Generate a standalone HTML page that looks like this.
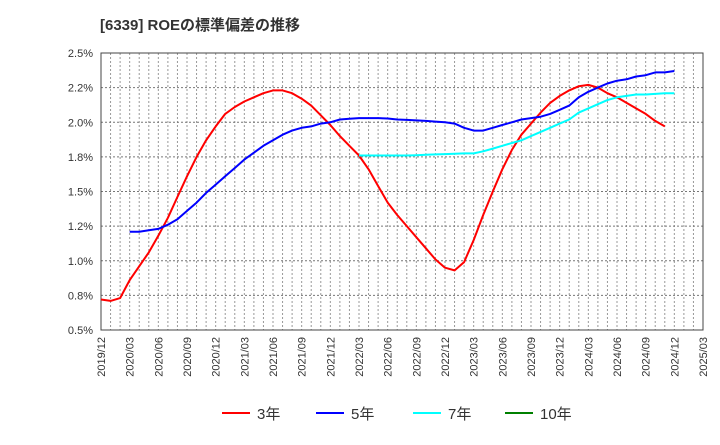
<!DOCTYPE html>
<html><head><meta charset="utf-8"><style>
body{margin:0;background:#fff;font-family:"Liberation Sans","Noto Sans CJK JP",sans-serif;}
</style></head><body>
<svg width="720" height="440" xmlns="http://www.w3.org/2000/svg" font-family="Liberation Sans, Noto Sans CJK JP, sans-serif">
<text x="100" y="30" font-size="15" font-weight="bold" fill="#333">[6339]  ROEの標準偏差の推移</text>
<g id="grid"></g>
<g id="axes"></g>
<g id="series"></g>
<g id="legend"></g>
</svg>
<script>
const xLabels=["2019/12","2020/03","2020/06","2020/09","2020/12","2021/03","2021/06","2021/09","2021/12","2022/03","2022/06","2022/09","2022/12","2023/03","2023/06","2023/09","2023/12","2024/03","2024/06","2024/09","2024/12","2025/03"];
const yTicks=[0.5,0.75,1.0,1.25,1.5,1.75,2.0,2.25,2.5];
const yTickLabels=["0.5%","0.8%","1.0%","1.2%","1.5%","1.8%","2.0%","2.2%","2.5%"];
// monthly values starting 2019/12 (month index 0)
const s3=[0.72,0.71,0.73,0.86,0.96,1.06,1.18,1.31,1.46,1.61,1.75,1.87,1.97,2.06,2.11,2.15,2.18,2.21,2.23,2.23,2.21,2.17,2.12,2.05,1.98,1.90,1.83,1.76,1.66,1.54,1.42,1.33,1.25,1.17,1.09,1.01,0.95,0.93,0.99,1.15,1.33,1.50,1.66,1.80,1.91,1.99,2.07,2.14,2.19,2.23,2.26,2.27,2.25,2.21,2.18,2.14,2.10,2.06,2.01,1.97];
const s5start=3;
const s5=[1.21,1.21,1.22,1.23,1.26,1.30,1.36,1.42,1.49,1.55,1.61,1.67,1.73,1.78,1.83,1.87,1.91,1.94,1.96,1.97,1.99,2.00,2.02,2.025,2.03,2.03,2.03,2.027,2.02,2.017,2.013,2.01,2.005,2.00,1.99,1.96,1.94,1.94,1.96,1.98,2.00,2.02,2.03,2.04,2.06,2.09,2.12,2.18,2.22,2.25,2.28,2.30,2.31,2.33,2.34,2.36,2.36,2.37];
const s7start=27;
const s7=[1.76,1.76,1.76,1.76,1.76,1.76,1.762,1.765,1.768,1.77,1.772,1.775,1.775,1.79,1.81,1.83,1.85,1.87,1.90,1.93,1.96,1.99,2.02,2.07,2.10,2.13,2.16,2.18,2.19,2.20,2.20,2.205,2.21,2.21];
const L=101,R=703,T=53,B=330,months=63;
const X=m=>L+m*(R-L)/months;
const Y=v=>B-(v-0.5)/2*(B-T);
const NS="http://www.w3.org/2000/svg";
function mk(tag,attrs,parent){const e=document.createElementNS(NS,tag);for(const k in attrs)e.setAttribute(k,attrs[k]);document.getElementById(parent).appendChild(e);return e;}
for(let m=1;m<months;m++){const l=mk('line',{x1:X(m),x2:X(m),y1:T,y2:B,stroke:'#999','stroke-dasharray':'2,2','stroke-width':1},'grid');

}
yTicks.forEach((v,i)=>{const l=mk('line',{x1:L,x2:R,y1:Y(v),y2:Y(v),stroke:'#777','stroke-dasharray':'2,2','stroke-width':1},'grid');


const t=mk('text',{x:L-8,y:Y(v)+4,'text-anchor':'end','font-size':11,fill:'#333'},'axes');t.textContent=yTickLabels[i];

});
xLabels.forEach((s,i)=>{const x=X(i*3);const t=mk('text',{transform:`translate(${x+4},${B+7}) rotate(-90)`,'text-anchor':'end','font-size':11,fill:'#333'},'axes');t.textContent=s;

});
const fr=mk('rect',{x:L,y:T,width:R-L,height:B-T,fill:'none',stroke:'#444','stroke-width':1},'axes');


function line(arr,start,color,name){const p=arr.map((v,i)=>`${X(start+i).toFixed(1)},${Y(v).toFixed(1)}`).join(' ');
const pl=mk('polyline',{points:p,fill:'none',stroke:color,'stroke-width':2,'stroke-linejoin':'round'},'series');

}
line(s3,0,'#ff0000','series-3yr');
line(s5,s5start,'#0000ff','series-5yr');
line(s7,s7start,'#00ffff','series-7yr');
const leg=[["3年","#ff0000",222],["5年","#0000ff",316],["7年","#00ffff",413],["10年","#008000",505]];
leg.forEach(([t,c,x])=>{const l=mk('line',{x1:x,x2:x+28,y1:413,y2:413,stroke:c,'stroke-width':2},'legend');


const tx=mk('text',{x:x+35,y:419,'font-size':15,fill:'#333'},'legend');tx.textContent=t;

});
</script>
</body></html>
